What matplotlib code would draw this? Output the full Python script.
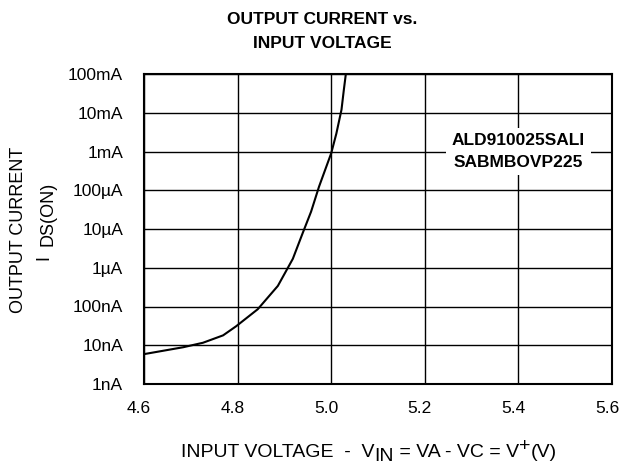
import numpy as np
import matplotlib.pyplot as plt
import matplotlib.transforms as mtransforms

plt.rcParams['font.family'] = ['Liberation Sans', 'DejaVu Sans']

# curve
vin = [4.600, 4.684, 4.726, 4.769, 4.797, 4.843, 4.886, 4.918, 4.939,
       4.957, 4.974, 5.000, 5.011, 5.022, 5.027, 5.031]
ids = [5.9e-9, 8.9e-9, 1.16e-8, 1.8e-8, 3.1e-8, 8.5e-8, 3.4e-7, 1.7e-6,
       7.8e-6, 2.8e-5, 1.24e-4, 9.0e-4, 2.9e-3, 1.2e-2, 3.9e-2, 9.4e-2]

x_ticks = [4.6, 4.8, 5.0, 5.2, 5.4, 5.6]
y_ticks = [1e-9, 1e-8, 1e-7, 1e-6, 1e-5, 1e-4, 1e-3, 1e-2, 1e-1]
y_labels = ['1nA', '10nA', '100nA', '1µA', '10µA', '100µA', '1mA', '10mA', '100mA']

W, H = 622, 470
fig = plt.figure(figsize=(W / 100, H / 100), dpi=100)
ax = fig.add_axes([144 / W, 1 - 384 / H, (612 - 144) / W, (384 - 74) / H])

ax.plot(vin, ids, color='black', lw=1.5)
ax.set_yscale('log')
ax.set_xlim(4.6, 5.6)
ax.set_ylim(1e-9, 1e-1)
ax.set_xticks(x_ticks)
ax.set_xticklabels(['%.1f' % v for v in x_ticks])
ax.set_yticks(y_ticks)
ax.set_yticklabels(y_labels)
ax.yaxis.set_minor_locator(plt.NullLocator())
ax.tick_params(length=0, labelsize=12.5)
ax.tick_params(axis='x', pad=12, labelsize=12.5)
ax.tick_params(axis='y', pad=15)
ax.grid(True, color='black', lw=1)
for s in ax.spines.values():
    s.set_linewidth(1.5)

# x tick labels sit a little left of their grid lines in the original
shift = mtransforms.ScaledTranslation(-5 / 100, 0, fig.dpi_scale_trans)
for lab in ax.get_xticklabels():
    lab.set_transform(lab.get_transform() + shift)

ax.text(5.4, 1e-3, 'ALD910025SALI\nSABMBOVP225', ha='center', va='center',
        fontsize=12.5, fontweight='bold', linespacing=1.55,
        bbox=dict(facecolor='white', edgecolor='none', pad=4))

fig.text(322 / W, 1 - 31 / H, 'OUTPUT CURRENT vs.\nINPUT VOLTAGE', ha='center',
         va='center', fontsize=12.5, fontweight='bold', linespacing=1.75)

fig.text(19 / W, 1 - 230 / H, 'OUTPUT CURRENT', rotation=90, ha='center',
         va='center', fontsize=13)
fig.text(44 / W, 1 - 257 / H, 'I', rotation=90, ha='center', va='center',
         fontsize=13)
fig.text(48 / W, 1 - 214 / H, 'DS(ON)', rotation=90, ha='center', va='center',
         fontsize=13)

# x label built from pieces so the sub/superscripts keep full size
pieces = [('INPUT VOLTAGE  -  V', 0), ('IN', -3), (' = VA - VC = V', 3),
          ('+', 4), ('(V)', -4)]
prev = fig.text(181 / W, 1 - 461 / H, pieces[0][0], ha='left', va='bottom',
                fontsize=14)
for txt, dy in pieces[1:]:
    prev = ax.annotate(txt, xy=(1, 0), xycoords=prev, xytext=(0, dy),
                       textcoords='offset points', ha='left', va='bottom',
                       fontsize=14, annotation_clip=False)

fig.savefig('out.png', dpi=100)
